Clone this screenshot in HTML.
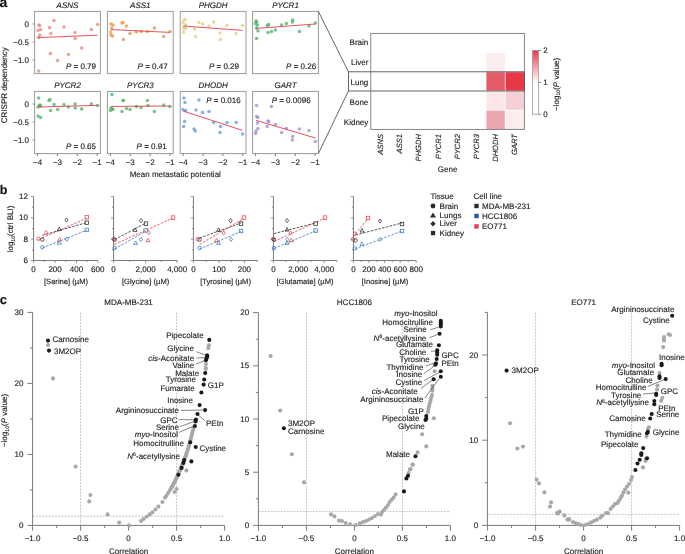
<!DOCTYPE html>
<html><head><meta charset="utf-8"><style>
html,body{margin:0;padding:0;background:#fff;}
svg{display:block;font-family:"Liberation Sans",sans-serif;text-rendering:geometricPrecision;will-change:transform;}
text{stroke:#231f20;stroke-width:0.15px;}
</style></head><body>
<svg width="685" height="554" viewBox="0 0 685 554">
<rect width="685" height="554" fill="#fff"/>
<text x="-0.40" y="7.20" font-size="14" text-anchor="start" font-weight="bold" fill="#111">a</text>
<text x="-0.20" y="194.30" font-size="12.5" text-anchor="start" font-weight="bold" fill="#111">b</text>
<text x="-0.20" y="304.20" font-size="13" text-anchor="start" font-weight="bold" fill="#111">c</text>
<text x="67.50" y="7.80" font-size="8" text-anchor="middle" font-style="italic" fill="#231f20">ASNS</text>
<circle cx="39.00" cy="25.00" r="1.75" fill="#ee8a80" fill-opacity="0.8"/>
<circle cx="39.60" cy="25.60" r="1.75" fill="#ee8a80" fill-opacity="0.8"/>
<circle cx="38.00" cy="30.40" r="1.75" fill="#ee8a80" fill-opacity="0.8"/>
<circle cx="40.60" cy="29.60" r="1.75" fill="#ee8a80" fill-opacity="0.8"/>
<circle cx="39.80" cy="35.00" r="1.75" fill="#ee8a80" fill-opacity="0.8"/>
<circle cx="38.60" cy="37.60" r="1.75" fill="#ee8a80" fill-opacity="0.8"/>
<circle cx="38.60" cy="71.00" r="1.75" fill="#ee8a80" fill-opacity="0.8"/>
<circle cx="49.60" cy="27.40" r="1.75" fill="#ee8a80" fill-opacity="0.8"/>
<circle cx="54.00" cy="20.60" r="1.75" fill="#ee8a80" fill-opacity="0.8"/>
<circle cx="50.80" cy="33.40" r="1.75" fill="#ee8a80" fill-opacity="0.8"/>
<circle cx="50.40" cy="53.60" r="1.75" fill="#ee8a80" fill-opacity="0.8"/>
<circle cx="57.60" cy="60.40" r="1.75" fill="#ee8a80" fill-opacity="0.8"/>
<circle cx="64.00" cy="27.00" r="1.75" fill="#ee8a80" fill-opacity="0.8"/>
<circle cx="68.40" cy="54.40" r="1.75" fill="#ee8a80" fill-opacity="0.8"/>
<circle cx="75.00" cy="32.40" r="1.75" fill="#ee8a80" fill-opacity="0.8"/>
<circle cx="75.20" cy="38.60" r="1.75" fill="#ee8a80" fill-opacity="0.8"/>
<circle cx="81.60" cy="48.00" r="1.75" fill="#ee8a80" fill-opacity="0.8"/>
<circle cx="91.40" cy="29.40" r="1.75" fill="#ee8a80" fill-opacity="0.8"/>
<circle cx="97.60" cy="24.40" r="1.75" fill="#ee8a80" fill-opacity="0.8"/>
<line x1="38.00" y1="37.60" x2="97.60" y2="35.20" stroke="#e0404e" stroke-width="0.9"/>
<rect x="34.60" y="11.40" width="65.8" height="62.2" fill="none" stroke="#9a9a9a" stroke-width="1"/>
<text x="96.00" y="68.50" font-size="8" text-anchor="end" fill="#231f20"><tspan font-style="italic">P</tspan> = 0.79</text>
<text x="140.30" y="7.80" font-size="8" text-anchor="middle" font-style="italic" fill="#231f20">ASS1</text>
<circle cx="111.00" cy="24.00" r="1.75" fill="#e89a48" fill-opacity="0.8"/>
<circle cx="113.00" cy="25.00" r="1.75" fill="#e89a48" fill-opacity="0.8"/>
<circle cx="111.60" cy="28.00" r="1.75" fill="#e89a48" fill-opacity="0.8"/>
<circle cx="110.60" cy="32.00" r="1.75" fill="#e89a48" fill-opacity="0.8"/>
<circle cx="111.00" cy="35.00" r="1.75" fill="#e89a48" fill-opacity="0.8"/>
<circle cx="112.60" cy="36.00" r="1.75" fill="#e89a48" fill-opacity="0.8"/>
<circle cx="122.00" cy="23.00" r="1.75" fill="#e89a48" fill-opacity="0.8"/>
<circle cx="123.00" cy="22.60" r="1.75" fill="#e89a48" fill-opacity="0.8"/>
<circle cx="126.40" cy="26.00" r="1.75" fill="#e89a48" fill-opacity="0.8"/>
<circle cx="123.40" cy="39.40" r="1.75" fill="#e89a48" fill-opacity="0.8"/>
<circle cx="130.00" cy="33.40" r="1.75" fill="#e89a48" fill-opacity="0.8"/>
<circle cx="136.40" cy="32.00" r="1.75" fill="#e89a48" fill-opacity="0.8"/>
<circle cx="141.00" cy="31.60" r="1.75" fill="#e89a48" fill-opacity="0.8"/>
<circle cx="147.40" cy="31.40" r="1.75" fill="#e89a48" fill-opacity="0.8"/>
<circle cx="154.40" cy="28.00" r="1.75" fill="#e89a48" fill-opacity="0.8"/>
<circle cx="163.60" cy="36.40" r="1.75" fill="#e89a48" fill-opacity="0.8"/>
<circle cx="170.00" cy="31.40" r="1.75" fill="#e89a48" fill-opacity="0.8"/>
<line x1="111.00" y1="29.60" x2="170.00" y2="32.40" stroke="#e0404e" stroke-width="0.9"/>
<rect x="107.40" y="11.40" width="65.8" height="62.2" fill="none" stroke="#9a9a9a" stroke-width="1"/>
<text x="167.60" y="68.50" font-size="8" text-anchor="end" fill="#231f20"><tspan font-style="italic">P</tspan> = 0.47</text>
<text x="213.10" y="7.80" font-size="8" text-anchor="middle" font-style="italic" fill="#231f20">PHGDH</text>
<circle cx="184.00" cy="20.00" r="1.75" fill="#e2d080" fill-opacity="0.8"/>
<circle cx="185.00" cy="19.60" r="1.75" fill="#e2d080" fill-opacity="0.8"/>
<circle cx="183.00" cy="23.00" r="1.75" fill="#e2d080" fill-opacity="0.8"/>
<circle cx="185.60" cy="25.00" r="1.75" fill="#e2d080" fill-opacity="0.8"/>
<circle cx="183.60" cy="28.00" r="1.75" fill="#e2d080" fill-opacity="0.8"/>
<circle cx="185.60" cy="28.60" r="1.75" fill="#e2d080" fill-opacity="0.8"/>
<circle cx="183.60" cy="32.00" r="1.75" fill="#e2d080" fill-opacity="0.8"/>
<circle cx="199.00" cy="22.40" r="1.75" fill="#e2d080" fill-opacity="0.8"/>
<circle cx="202.60" cy="24.00" r="1.75" fill="#e2d080" fill-opacity="0.8"/>
<circle cx="209.00" cy="26.00" r="1.75" fill="#e2d080" fill-opacity="0.8"/>
<circle cx="213.60" cy="22.00" r="1.75" fill="#e2d080" fill-opacity="0.8"/>
<circle cx="194.60" cy="29.00" r="1.75" fill="#e2d080" fill-opacity="0.8"/>
<circle cx="195.40" cy="36.60" r="1.75" fill="#e2d080" fill-opacity="0.8"/>
<circle cx="220.00" cy="33.00" r="1.75" fill="#e2d080" fill-opacity="0.8"/>
<circle cx="220.40" cy="39.40" r="1.75" fill="#e2d080" fill-opacity="0.8"/>
<circle cx="227.00" cy="25.40" r="1.75" fill="#e2d080" fill-opacity="0.8"/>
<circle cx="236.20" cy="33.60" r="1.75" fill="#e2d080" fill-opacity="0.8"/>
<circle cx="242.60" cy="25.60" r="1.75" fill="#e2d080" fill-opacity="0.8"/>
<line x1="183.00" y1="26.00" x2="242.60" y2="30.40" stroke="#e0404e" stroke-width="0.9"/>
<rect x="180.20" y="11.40" width="65.8" height="62.2" fill="none" stroke="#9a9a9a" stroke-width="1"/>
<text x="239.00" y="68.50" font-size="8" text-anchor="end" fill="#231f20"><tspan font-style="italic">P</tspan> = 0.29</text>
<text x="285.50" y="7.80" font-size="8" text-anchor="middle" font-style="italic" fill="#231f20">PYCR1</text>
<circle cx="256.00" cy="21.00" r="1.75" fill="#52b66a" fill-opacity="0.8"/>
<circle cx="256.60" cy="22.00" r="1.75" fill="#52b66a" fill-opacity="0.8"/>
<circle cx="255.60" cy="23.60" r="1.75" fill="#52b66a" fill-opacity="0.8"/>
<circle cx="257.40" cy="25.00" r="1.75" fill="#52b66a" fill-opacity="0.8"/>
<circle cx="256.60" cy="28.00" r="1.75" fill="#52b66a" fill-opacity="0.8"/>
<circle cx="258.00" cy="31.00" r="1.75" fill="#52b66a" fill-opacity="0.8"/>
<circle cx="256.60" cy="38.60" r="1.75" fill="#52b66a" fill-opacity="0.8"/>
<circle cx="267.40" cy="25.40" r="1.75" fill="#52b66a" fill-opacity="0.8"/>
<circle cx="268.60" cy="24.40" r="1.75" fill="#52b66a" fill-opacity="0.8"/>
<circle cx="268.00" cy="32.40" r="1.75" fill="#52b66a" fill-opacity="0.8"/>
<circle cx="271.60" cy="31.40" r="1.75" fill="#52b66a" fill-opacity="0.8"/>
<circle cx="275.40" cy="30.00" r="1.75" fill="#52b66a" fill-opacity="0.8"/>
<circle cx="281.60" cy="25.00" r="1.75" fill="#52b66a" fill-opacity="0.8"/>
<circle cx="286.40" cy="23.60" r="1.75" fill="#52b66a" fill-opacity="0.8"/>
<circle cx="292.60" cy="20.00" r="1.75" fill="#52b66a" fill-opacity="0.8"/>
<circle cx="292.40" cy="22.00" r="1.75" fill="#52b66a" fill-opacity="0.8"/>
<circle cx="299.40" cy="31.40" r="1.75" fill="#52b66a" fill-opacity="0.8"/>
<circle cx="309.00" cy="26.00" r="1.75" fill="#52b66a" fill-opacity="0.8"/>
<circle cx="315.40" cy="23.00" r="1.75" fill="#52b66a" fill-opacity="0.8"/>
<line x1="256.00" y1="28.40" x2="315.40" y2="24.00" stroke="#e0404e" stroke-width="0.9"/>
<rect x="252.60" y="11.40" width="65.8" height="62.2" fill="none" stroke="#9a9a9a" stroke-width="1"/>
<text x="316.10" y="68.50" font-size="8" text-anchor="end" fill="#231f20"><tspan font-style="italic">P</tspan> = 0.26</text>
<line x1="32.40" y1="24.00" x2="34.60" y2="24.00" stroke="#7a7a7a" stroke-width="0.8"/>
<text x="29.00" y="26.60" font-size="8" text-anchor="end" fill="#231f20">0</text>
<line x1="32.40" y1="42.00" x2="34.60" y2="42.00" stroke="#7a7a7a" stroke-width="0.8"/>
<text x="29.00" y="44.60" font-size="8" text-anchor="end" fill="#231f20">−0.5</text>
<line x1="32.40" y1="60.00" x2="34.60" y2="60.00" stroke="#7a7a7a" stroke-width="0.8"/>
<text x="29.00" y="62.60" font-size="8" text-anchor="end" fill="#231f20">−1.0</text>
<text x="67.50" y="87.80" font-size="8" text-anchor="middle" font-style="italic" fill="#231f20">PYCR2</text>
<circle cx="38.60" cy="98.00" r="1.75" fill="#52b66a" fill-opacity="0.8"/>
<circle cx="38.00" cy="107.00" r="1.75" fill="#52b66a" fill-opacity="0.8"/>
<circle cx="39.40" cy="105.60" r="1.75" fill="#52b66a" fill-opacity="0.8"/>
<circle cx="40.00" cy="105.00" r="1.75" fill="#52b66a" fill-opacity="0.8"/>
<circle cx="40.60" cy="106.00" r="1.75" fill="#52b66a" fill-opacity="0.8"/>
<circle cx="38.00" cy="116.00" r="1.75" fill="#52b66a" fill-opacity="0.8"/>
<circle cx="40.60" cy="117.40" r="1.75" fill="#52b66a" fill-opacity="0.8"/>
<circle cx="49.00" cy="100.60" r="1.75" fill="#52b66a" fill-opacity="0.8"/>
<circle cx="50.00" cy="99.60" r="1.75" fill="#52b66a" fill-opacity="0.8"/>
<circle cx="54.00" cy="104.40" r="1.75" fill="#52b66a" fill-opacity="0.8"/>
<circle cx="50.60" cy="110.60" r="1.75" fill="#52b66a" fill-opacity="0.8"/>
<circle cx="57.60" cy="109.40" r="1.75" fill="#52b66a" fill-opacity="0.8"/>
<circle cx="64.00" cy="104.40" r="1.75" fill="#52b66a" fill-opacity="0.8"/>
<circle cx="68.40" cy="107.00" r="1.75" fill="#52b66a" fill-opacity="0.8"/>
<circle cx="75.20" cy="104.00" r="1.75" fill="#52b66a" fill-opacity="0.8"/>
<circle cx="75.20" cy="108.00" r="1.75" fill="#52b66a" fill-opacity="0.8"/>
<circle cx="81.60" cy="109.00" r="1.75" fill="#52b66a" fill-opacity="0.8"/>
<circle cx="91.40" cy="104.00" r="1.75" fill="#52b66a" fill-opacity="0.8"/>
<circle cx="97.60" cy="105.40" r="1.75" fill="#52b66a" fill-opacity="0.8"/>
<line x1="38.00" y1="107.00" x2="97.60" y2="105.40" stroke="#e0404e" stroke-width="0.9"/>
<rect x="34.60" y="91.40" width="65.8" height="62.2" fill="none" stroke="#9a9a9a" stroke-width="1"/>
<text x="96.00" y="148.50" font-size="8" text-anchor="end" fill="#231f20"><tspan font-style="italic">P</tspan> = 0.65</text>
<line x1="37.60" y1="153.60" x2="37.60" y2="156.00" stroke="#7a7a7a" stroke-width="1"/>
<text x="37.60" y="164.60" font-size="8" text-anchor="middle" fill="#231f20">−4</text>
<line x1="57.45" y1="153.60" x2="57.45" y2="156.00" stroke="#7a7a7a" stroke-width="1"/>
<text x="57.45" y="164.60" font-size="8" text-anchor="middle" fill="#231f20">−3</text>
<line x1="77.30" y1="153.60" x2="77.30" y2="156.00" stroke="#7a7a7a" stroke-width="1"/>
<text x="77.30" y="164.60" font-size="8" text-anchor="middle" fill="#231f20">−2</text>
<line x1="97.15" y1="153.60" x2="97.15" y2="156.00" stroke="#7a7a7a" stroke-width="1"/>
<text x="97.15" y="164.60" font-size="8" text-anchor="middle" fill="#231f20">−1</text>
<text x="140.30" y="87.80" font-size="8" text-anchor="middle" font-style="italic" fill="#231f20">PYCR3</text>
<circle cx="112.00" cy="94.40" r="1.75" fill="#52b66a" fill-opacity="0.8"/>
<circle cx="111.00" cy="108.00" r="1.75" fill="#52b66a" fill-opacity="0.8"/>
<circle cx="112.00" cy="109.00" r="1.75" fill="#52b66a" fill-opacity="0.8"/>
<circle cx="113.00" cy="109.60" r="1.75" fill="#52b66a" fill-opacity="0.8"/>
<circle cx="110.40" cy="110.40" r="1.75" fill="#52b66a" fill-opacity="0.8"/>
<circle cx="123.00" cy="100.60" r="1.75" fill="#52b66a" fill-opacity="0.8"/>
<circle cx="123.40" cy="100.60" r="1.75" fill="#52b66a" fill-opacity="0.8"/>
<circle cx="122.00" cy="111.40" r="1.75" fill="#52b66a" fill-opacity="0.8"/>
<circle cx="126.40" cy="108.40" r="1.75" fill="#52b66a" fill-opacity="0.8"/>
<circle cx="130.00" cy="109.40" r="1.75" fill="#52b66a" fill-opacity="0.8"/>
<circle cx="136.40" cy="106.40" r="1.75" fill="#52b66a" fill-opacity="0.8"/>
<circle cx="141.00" cy="107.40" r="1.75" fill="#52b66a" fill-opacity="0.8"/>
<circle cx="147.40" cy="100.40" r="1.75" fill="#52b66a" fill-opacity="0.8"/>
<circle cx="148.00" cy="105.40" r="1.75" fill="#52b66a" fill-opacity="0.8"/>
<circle cx="154.40" cy="111.40" r="1.75" fill="#52b66a" fill-opacity="0.8"/>
<circle cx="163.60" cy="105.00" r="1.75" fill="#52b66a" fill-opacity="0.8"/>
<circle cx="170.00" cy="106.40" r="1.75" fill="#52b66a" fill-opacity="0.8"/>
<line x1="111.00" y1="106.40" x2="170.00" y2="106.00" stroke="#e0404e" stroke-width="0.9"/>
<rect x="107.40" y="91.40" width="65.8" height="62.2" fill="none" stroke="#9a9a9a" stroke-width="1"/>
<text x="166.60" y="148.50" font-size="8" text-anchor="end" fill="#231f20"><tspan font-style="italic">P</tspan> = 0.91</text>
<line x1="110.40" y1="153.60" x2="110.40" y2="156.00" stroke="#7a7a7a" stroke-width="1"/>
<text x="110.40" y="164.60" font-size="8" text-anchor="middle" fill="#231f20">−4</text>
<line x1="130.25" y1="153.60" x2="130.25" y2="156.00" stroke="#7a7a7a" stroke-width="1"/>
<text x="130.25" y="164.60" font-size="8" text-anchor="middle" fill="#231f20">−3</text>
<line x1="150.10" y1="153.60" x2="150.10" y2="156.00" stroke="#7a7a7a" stroke-width="1"/>
<text x="150.10" y="164.60" font-size="8" text-anchor="middle" fill="#231f20">−2</text>
<line x1="169.95" y1="153.60" x2="169.95" y2="156.00" stroke="#7a7a7a" stroke-width="1"/>
<text x="169.95" y="164.60" font-size="8" text-anchor="middle" fill="#231f20">−1</text>
<text x="213.10" y="87.80" font-size="8" text-anchor="middle" font-style="italic" fill="#231f20">DHODH</text>
<circle cx="184.00" cy="98.00" r="1.75" fill="#6a9edc" fill-opacity="0.8"/>
<circle cx="185.00" cy="102.60" r="1.75" fill="#6a9edc" fill-opacity="0.8"/>
<circle cx="183.00" cy="109.60" r="1.75" fill="#6a9edc" fill-opacity="0.8"/>
<circle cx="185.60" cy="110.60" r="1.75" fill="#6a9edc" fill-opacity="0.8"/>
<circle cx="184.60" cy="121.60" r="1.75" fill="#6a9edc" fill-opacity="0.8"/>
<circle cx="183.60" cy="126.60" r="1.75" fill="#6a9edc" fill-opacity="0.8"/>
<circle cx="199.00" cy="100.00" r="1.75" fill="#6a9edc" fill-opacity="0.8"/>
<circle cx="196.00" cy="110.00" r="1.75" fill="#6a9edc" fill-opacity="0.8"/>
<circle cx="194.00" cy="129.00" r="1.75" fill="#6a9edc" fill-opacity="0.8"/>
<circle cx="195.40" cy="131.00" r="1.75" fill="#6a9edc" fill-opacity="0.8"/>
<circle cx="202.60" cy="112.60" r="1.75" fill="#6a9edc" fill-opacity="0.8"/>
<circle cx="209.00" cy="111.60" r="1.75" fill="#6a9edc" fill-opacity="0.8"/>
<circle cx="213.60" cy="122.60" r="1.75" fill="#6a9edc" fill-opacity="0.8"/>
<circle cx="220.40" cy="126.40" r="1.75" fill="#6a9edc" fill-opacity="0.8"/>
<circle cx="220.00" cy="132.40" r="1.75" fill="#6a9edc" fill-opacity="0.8"/>
<circle cx="227.00" cy="122.60" r="1.75" fill="#6a9edc" fill-opacity="0.8"/>
<circle cx="236.20" cy="122.60" r="1.75" fill="#6a9edc" fill-opacity="0.8"/>
<circle cx="242.60" cy="134.00" r="1.75" fill="#6a9edc" fill-opacity="0.8"/>
<line x1="183.00" y1="111.00" x2="242.60" y2="130.40" stroke="#e0404e" stroke-width="0.9"/>
<rect x="180.20" y="91.40" width="65.8" height="62.2" fill="none" stroke="#9a9a9a" stroke-width="1"/>
<text x="240.70" y="102.70" font-size="8" text-anchor="end" fill="#231f20"><tspan font-style="italic">P</tspan> = 0.016</text>
<line x1="183.20" y1="153.60" x2="183.20" y2="156.00" stroke="#7a7a7a" stroke-width="1"/>
<text x="183.20" y="164.60" font-size="8" text-anchor="middle" fill="#231f20">−4</text>
<line x1="203.05" y1="153.60" x2="203.05" y2="156.00" stroke="#7a7a7a" stroke-width="1"/>
<text x="203.05" y="164.60" font-size="8" text-anchor="middle" fill="#231f20">−3</text>
<line x1="222.90" y1="153.60" x2="222.90" y2="156.00" stroke="#7a7a7a" stroke-width="1"/>
<text x="222.90" y="164.60" font-size="8" text-anchor="middle" fill="#231f20">−2</text>
<line x1="242.75" y1="153.60" x2="242.75" y2="156.00" stroke="#7a7a7a" stroke-width="1"/>
<text x="242.75" y="164.60" font-size="8" text-anchor="middle" fill="#231f20">−1</text>
<text x="285.50" y="87.80" font-size="8" text-anchor="middle" font-style="italic" fill="#231f20">GART</text>
<circle cx="256.60" cy="105.40" r="1.75" fill="#a48ed0" fill-opacity="0.8"/>
<circle cx="271.40" cy="106.60" r="1.75" fill="#a48ed0" fill-opacity="0.8"/>
<circle cx="256.60" cy="116.60" r="1.75" fill="#a48ed0" fill-opacity="0.8"/>
<circle cx="257.80" cy="117.40" r="1.75" fill="#a48ed0" fill-opacity="0.8"/>
<circle cx="257.40" cy="123.00" r="1.75" fill="#a48ed0" fill-opacity="0.8"/>
<circle cx="258.00" cy="128.60" r="1.75" fill="#a48ed0" fill-opacity="0.8"/>
<circle cx="256.00" cy="131.00" r="1.75" fill="#a48ed0" fill-opacity="0.8"/>
<circle cx="255.60" cy="133.40" r="1.75" fill="#a48ed0" fill-opacity="0.8"/>
<circle cx="268.00" cy="121.00" r="1.75" fill="#a48ed0" fill-opacity="0.8"/>
<circle cx="268.60" cy="121.40" r="1.75" fill="#a48ed0" fill-opacity="0.8"/>
<circle cx="267.20" cy="126.40" r="1.75" fill="#a48ed0" fill-opacity="0.8"/>
<circle cx="275.40" cy="124.40" r="1.75" fill="#a48ed0" fill-opacity="0.8"/>
<circle cx="281.60" cy="132.60" r="1.75" fill="#a48ed0" fill-opacity="0.8"/>
<circle cx="286.40" cy="128.60" r="1.75" fill="#a48ed0" fill-opacity="0.8"/>
<circle cx="292.60" cy="136.40" r="1.75" fill="#a48ed0" fill-opacity="0.8"/>
<circle cx="292.40" cy="140.00" r="1.75" fill="#a48ed0" fill-opacity="0.8"/>
<circle cx="299.40" cy="129.00" r="1.75" fill="#a48ed0" fill-opacity="0.8"/>
<circle cx="309.00" cy="130.60" r="1.75" fill="#a48ed0" fill-opacity="0.8"/>
<circle cx="315.40" cy="141.40" r="1.75" fill="#a48ed0" fill-opacity="0.8"/>
<line x1="256.00" y1="120.40" x2="315.40" y2="138.00" stroke="#e0404e" stroke-width="0.9"/>
<rect x="252.60" y="91.40" width="65.8" height="62.2" fill="none" stroke="#9a9a9a" stroke-width="1"/>
<text x="310.60" y="102.70" font-size="8" text-anchor="end" fill="#231f20"><tspan font-style="italic">P</tspan> = 0.0096</text>
<line x1="255.60" y1="153.60" x2="255.60" y2="156.00" stroke="#7a7a7a" stroke-width="1"/>
<text x="255.60" y="164.60" font-size="8" text-anchor="middle" fill="#231f20">−4</text>
<line x1="275.45" y1="153.60" x2="275.45" y2="156.00" stroke="#7a7a7a" stroke-width="1"/>
<text x="275.45" y="164.60" font-size="8" text-anchor="middle" fill="#231f20">−3</text>
<line x1="295.30" y1="153.60" x2="295.30" y2="156.00" stroke="#7a7a7a" stroke-width="1"/>
<text x="295.30" y="164.60" font-size="8" text-anchor="middle" fill="#231f20">−2</text>
<line x1="315.15" y1="153.60" x2="315.15" y2="156.00" stroke="#7a7a7a" stroke-width="1"/>
<text x="315.15" y="164.60" font-size="8" text-anchor="middle" fill="#231f20">−1</text>
<line x1="32.40" y1="104.00" x2="34.60" y2="104.00" stroke="#7a7a7a" stroke-width="0.8"/>
<text x="29.00" y="106.60" font-size="8" text-anchor="end" fill="#231f20">0</text>
<line x1="32.40" y1="122.00" x2="34.60" y2="122.00" stroke="#7a7a7a" stroke-width="0.8"/>
<text x="29.00" y="124.60" font-size="8" text-anchor="end" fill="#231f20">−0.5</text>
<line x1="32.40" y1="140.00" x2="34.60" y2="140.00" stroke="#7a7a7a" stroke-width="0.8"/>
<text x="29.00" y="142.60" font-size="8" text-anchor="end" fill="#231f20">−1.0</text>
<text x="4.30" y="85.00" font-size="8" text-anchor="middle" fill="#231f20" transform="rotate(-90 4.3 85.2) translate(0 2.4)">CRISPR dependency</text>
<text x="175.30" y="176.60" font-size="8" text-anchor="middle" fill="#231f20">Mean metastatic potential</text>
<line x1="318.40" y1="11.40" x2="348.50" y2="71.90" stroke="#555" stroke-width="0.9"/>
<line x1="318.40" y1="153.60" x2="348.50" y2="90.70" stroke="#555" stroke-width="0.9"/>
<rect x="486.40" y="53.00" width="18.40" height="18.40" fill="#fbecee"/>
<rect x="486.40" y="72.20" width="18.40" height="18.40" fill="#e45a66"/>
<rect x="505.60" y="72.20" width="18.40" height="18.40" fill="#e83848"/>
<rect x="486.40" y="91.40" width="18.40" height="18.40" fill="#fbe7e9"/>
<rect x="505.60" y="91.40" width="18.40" height="18.40" fill="#f4d0d4"/>
<rect x="486.40" y="110.60" width="18.40" height="18.40" fill="#eca6ad"/>
<rect x="505.60" y="110.60" width="18.40" height="18.40" fill="#fbecee"/>
<rect x="370.80" y="33.40" width="153.60" height="96.00" fill="none" stroke="#7a7a7a" stroke-width="0.9"/>
<rect x="348.5" y="71.80" width="175.90" height="19.20" fill="none" stroke="#555" stroke-width="0.9"/>
<text x="368.30" y="44.60" font-size="8" text-anchor="end" fill="#231f20">Brain</text>
<text x="368.30" y="65.00" font-size="8" text-anchor="end" fill="#231f20">Liver</text>
<text x="368.30" y="84.90" font-size="8" text-anchor="end" fill="#231f20">Lung</text>
<text x="368.30" y="104.60" font-size="8" text-anchor="end" fill="#231f20">Bone</text>
<text x="368.30" y="124.50" font-size="8" text-anchor="end" fill="#231f20">Kidney</text>
<text x="0" y="0" font-size="7.6" font-style="italic" text-anchor="end" fill="#231f20" transform="translate(383.00 134.0) rotate(-90)">ASNS</text>
<text x="0" y="0" font-size="7.6" font-style="italic" text-anchor="end" fill="#231f20" transform="translate(402.20 134.0) rotate(-90)">ASS1</text>
<text x="0" y="0" font-size="7.6" font-style="italic" text-anchor="end" fill="#231f20" transform="translate(421.40 134.0) rotate(-90)">PHGDH</text>
<text x="0" y="0" font-size="7.6" font-style="italic" text-anchor="end" fill="#231f20" transform="translate(440.60 134.0) rotate(-90)">PYCR1</text>
<text x="0" y="0" font-size="7.6" font-style="italic" text-anchor="end" fill="#231f20" transform="translate(459.80 134.0) rotate(-90)">PYCR2</text>
<text x="0" y="0" font-size="7.6" font-style="italic" text-anchor="end" fill="#231f20" transform="translate(479.00 134.0) rotate(-90)">PYCR3</text>
<text x="0" y="0" font-size="7.6" font-style="italic" text-anchor="end" fill="#231f20" transform="translate(498.20 134.0) rotate(-90)">DHODH</text>
<text x="0" y="0" font-size="7.6" font-style="italic" text-anchor="end" fill="#231f20" transform="translate(517.40 134.0) rotate(-90)">GART</text>
<text x="447.60" y="171.80" font-size="8" text-anchor="middle" fill="#231f20">Gene</text>
<defs><linearGradient id="cb" x1="0" y1="0" x2="0" y2="1"><stop offset="0" stop-color="#e8384a"/><stop offset="0.5" stop-color="#ffffff"/><stop offset="1" stop-color="#ffffff"/></linearGradient></defs>
<rect x="532.5" y="50.6" width="6" height="63.6" fill="url(#cb)" stroke="#909090" stroke-width="0.7"/>
<line x1="538.50" y1="50.60" x2="541.00" y2="50.60" stroke="#666" stroke-width="0.8"/>
<text x="543.20" y="53.20" font-size="8" text-anchor="start" fill="#231f20">2</text>
<line x1="538.50" y1="82.40" x2="541.00" y2="82.40" stroke="#666" stroke-width="0.8"/>
<text x="543.20" y="85.00" font-size="8" text-anchor="start" fill="#231f20">1</text>
<line x1="538.50" y1="114.20" x2="541.00" y2="114.20" stroke="#666" stroke-width="0.8"/>
<text x="543.20" y="116.80" font-size="8" text-anchor="start" fill="#231f20">0</text>
<text x="0" y="0" font-size="8" text-anchor="middle" fill="#231f20" transform="translate(558.5 84.4) rotate(-90)">−log<tspan font-size="5.2" dy="1.6">10</tspan><tspan dy="-1.6">(</tspan><tspan font-style="italic">P</tspan> value)</text>
<line x1="33.60" y1="196.50" x2="33.60" y2="260.50" stroke="#7a7a7a" stroke-width="1"/>
<line x1="33.60" y1="260.50" x2="97.80" y2="260.50" stroke="#7a7a7a" stroke-width="1"/>
<line x1="31.00" y1="196.50" x2="33.60" y2="196.50" stroke="#7a7a7a" stroke-width="0.8"/>
<text x="28.00" y="199.10" font-size="8" text-anchor="end" fill="#231f20">12</text>
<line x1="32.00" y1="207.17" x2="33.60" y2="207.17" stroke="#7a7a7a" stroke-width="0.8"/>
<line x1="31.00" y1="217.84" x2="33.60" y2="217.84" stroke="#7a7a7a" stroke-width="0.8"/>
<text x="28.00" y="220.44" font-size="8" text-anchor="end" fill="#231f20">10</text>
<line x1="32.00" y1="228.51" x2="33.60" y2="228.51" stroke="#7a7a7a" stroke-width="0.8"/>
<line x1="31.00" y1="239.18" x2="33.60" y2="239.18" stroke="#7a7a7a" stroke-width="0.8"/>
<text x="28.00" y="241.78" font-size="8" text-anchor="end" fill="#231f20">8</text>
<line x1="32.00" y1="249.85" x2="33.60" y2="249.85" stroke="#7a7a7a" stroke-width="0.8"/>
<line x1="31.00" y1="260.52" x2="33.60" y2="260.52" stroke="#7a7a7a" stroke-width="0.8"/>
<text x="28.00" y="263.12" font-size="8" text-anchor="end" fill="#231f20">6</text>
<line x1="33.60" y1="260.50" x2="33.60" y2="263.10" stroke="#7a7a7a" stroke-width="0.8"/>
<text x="33.60" y="272.40" font-size="8" text-anchor="middle" fill="#231f20">0</text>
<line x1="44.40" y1="260.50" x2="44.40" y2="262.10" stroke="#7a7a7a" stroke-width="0.8"/>
<line x1="55.10" y1="260.50" x2="55.10" y2="263.10" stroke="#7a7a7a" stroke-width="0.8"/>
<text x="55.10" y="272.40" font-size="8" text-anchor="middle" fill="#231f20">200</text>
<line x1="65.80" y1="260.50" x2="65.80" y2="262.10" stroke="#7a7a7a" stroke-width="0.8"/>
<line x1="76.50" y1="260.50" x2="76.50" y2="263.10" stroke="#7a7a7a" stroke-width="0.8"/>
<text x="76.50" y="272.40" font-size="8" text-anchor="middle" fill="#231f20">400</text>
<line x1="87.10" y1="260.50" x2="87.10" y2="262.10" stroke="#7a7a7a" stroke-width="0.8"/>
<line x1="97.80" y1="260.50" x2="97.80" y2="263.10" stroke="#7a7a7a" stroke-width="0.8"/>
<text x="97.80" y="272.40" font-size="8" text-anchor="middle" fill="#231f20">600</text>
<text x="66.00" y="284.47" font-size="7.6" text-anchor="middle" fill="#231f20">[Serine] (µM)</text>
<line x1="113.60" y1="196.50" x2="113.60" y2="260.50" stroke="#7a7a7a" stroke-width="1"/>
<line x1="113.60" y1="260.50" x2="177.20" y2="260.50" stroke="#7a7a7a" stroke-width="1"/>
<line x1="111.00" y1="196.50" x2="113.60" y2="196.50" stroke="#7a7a7a" stroke-width="0.8"/>
<line x1="112.00" y1="207.17" x2="113.60" y2="207.17" stroke="#7a7a7a" stroke-width="0.8"/>
<line x1="111.00" y1="217.84" x2="113.60" y2="217.84" stroke="#7a7a7a" stroke-width="0.8"/>
<line x1="112.00" y1="228.51" x2="113.60" y2="228.51" stroke="#7a7a7a" stroke-width="0.8"/>
<line x1="111.00" y1="239.18" x2="113.60" y2="239.18" stroke="#7a7a7a" stroke-width="0.8"/>
<line x1="112.00" y1="249.85" x2="113.60" y2="249.85" stroke="#7a7a7a" stroke-width="0.8"/>
<line x1="111.00" y1="260.52" x2="113.60" y2="260.52" stroke="#7a7a7a" stroke-width="0.8"/>
<line x1="113.60" y1="260.50" x2="113.60" y2="263.10" stroke="#7a7a7a" stroke-width="0.8"/>
<text x="113.60" y="272.40" font-size="8" text-anchor="middle" fill="#231f20">0</text>
<line x1="129.70" y1="260.50" x2="129.70" y2="262.10" stroke="#7a7a7a" stroke-width="0.8"/>
<line x1="145.60" y1="260.50" x2="145.60" y2="263.10" stroke="#7a7a7a" stroke-width="0.8"/>
<text x="145.60" y="272.40" font-size="8" text-anchor="middle" fill="#231f20">2,000</text>
<line x1="161.30" y1="260.50" x2="161.30" y2="262.10" stroke="#7a7a7a" stroke-width="0.8"/>
<line x1="177.20" y1="260.50" x2="177.20" y2="263.10" stroke="#7a7a7a" stroke-width="0.8"/>
<text x="177.20" y="272.40" font-size="8" text-anchor="middle" fill="#231f20">4,000</text>
<text x="145.60" y="284.47" font-size="7.6" text-anchor="middle" fill="#231f20">[Glycine] (µM)</text>
<line x1="193.40" y1="196.50" x2="193.40" y2="260.50" stroke="#7a7a7a" stroke-width="1"/>
<line x1="193.40" y1="260.50" x2="257.40" y2="260.50" stroke="#7a7a7a" stroke-width="1"/>
<line x1="190.80" y1="196.50" x2="193.40" y2="196.50" stroke="#7a7a7a" stroke-width="0.8"/>
<line x1="191.80" y1="207.17" x2="193.40" y2="207.17" stroke="#7a7a7a" stroke-width="0.8"/>
<line x1="190.80" y1="217.84" x2="193.40" y2="217.84" stroke="#7a7a7a" stroke-width="0.8"/>
<line x1="191.80" y1="228.51" x2="193.40" y2="228.51" stroke="#7a7a7a" stroke-width="0.8"/>
<line x1="190.80" y1="239.18" x2="193.40" y2="239.18" stroke="#7a7a7a" stroke-width="0.8"/>
<line x1="191.80" y1="249.85" x2="193.40" y2="249.85" stroke="#7a7a7a" stroke-width="0.8"/>
<line x1="190.80" y1="260.52" x2="193.40" y2="260.52" stroke="#7a7a7a" stroke-width="0.8"/>
<line x1="193.40" y1="260.50" x2="193.40" y2="263.10" stroke="#7a7a7a" stroke-width="0.8"/>
<text x="193.40" y="272.40" font-size="8" text-anchor="middle" fill="#231f20">0</text>
<line x1="206.20" y1="260.50" x2="206.20" y2="262.10" stroke="#7a7a7a" stroke-width="0.8"/>
<line x1="219.00" y1="260.50" x2="219.00" y2="263.10" stroke="#7a7a7a" stroke-width="0.8"/>
<text x="219.00" y="272.40" font-size="8" text-anchor="middle" fill="#231f20">100</text>
<line x1="231.70" y1="260.50" x2="231.70" y2="262.10" stroke="#7a7a7a" stroke-width="0.8"/>
<line x1="244.40" y1="260.50" x2="244.40" y2="263.10" stroke="#7a7a7a" stroke-width="0.8"/>
<text x="244.40" y="272.40" font-size="8" text-anchor="middle" fill="#231f20">200</text>
<line x1="257.40" y1="260.50" x2="257.40" y2="262.10" stroke="#7a7a7a" stroke-width="0.8"/>
<text x="225.60" y="284.47" font-size="7.6" text-anchor="middle" fill="#231f20">[Tyrosine] (µM)</text>
<line x1="273.40" y1="196.50" x2="273.40" y2="260.50" stroke="#7a7a7a" stroke-width="1"/>
<line x1="273.40" y1="260.50" x2="336.80" y2="260.50" stroke="#7a7a7a" stroke-width="1"/>
<line x1="270.80" y1="196.50" x2="273.40" y2="196.50" stroke="#7a7a7a" stroke-width="0.8"/>
<line x1="271.80" y1="207.17" x2="273.40" y2="207.17" stroke="#7a7a7a" stroke-width="0.8"/>
<line x1="270.80" y1="217.84" x2="273.40" y2="217.84" stroke="#7a7a7a" stroke-width="0.8"/>
<line x1="271.80" y1="228.51" x2="273.40" y2="228.51" stroke="#7a7a7a" stroke-width="0.8"/>
<line x1="270.80" y1="239.18" x2="273.40" y2="239.18" stroke="#7a7a7a" stroke-width="0.8"/>
<line x1="271.80" y1="249.85" x2="273.40" y2="249.85" stroke="#7a7a7a" stroke-width="0.8"/>
<line x1="270.80" y1="260.52" x2="273.40" y2="260.52" stroke="#7a7a7a" stroke-width="0.8"/>
<line x1="273.40" y1="260.50" x2="273.40" y2="263.10" stroke="#7a7a7a" stroke-width="0.8"/>
<text x="273.40" y="272.40" font-size="8" text-anchor="middle" fill="#231f20">0</text>
<line x1="285.80" y1="260.50" x2="285.80" y2="262.10" stroke="#7a7a7a" stroke-width="0.8"/>
<line x1="298.20" y1="260.50" x2="298.20" y2="263.10" stroke="#7a7a7a" stroke-width="0.8"/>
<text x="298.20" y="272.40" font-size="8" text-anchor="middle" fill="#231f20">2,000</text>
<line x1="311.20" y1="260.50" x2="311.20" y2="262.10" stroke="#7a7a7a" stroke-width="0.8"/>
<line x1="324.20" y1="260.50" x2="324.20" y2="263.10" stroke="#7a7a7a" stroke-width="0.8"/>
<text x="324.20" y="272.40" font-size="8" text-anchor="middle" fill="#231f20">4,000</text>
<line x1="336.80" y1="260.50" x2="336.80" y2="262.10" stroke="#7a7a7a" stroke-width="0.8"/>
<text x="305.00" y="284.47" font-size="7.6" text-anchor="middle" fill="#231f20">[Glutamate] (µM)</text>
<line x1="353.40" y1="196.50" x2="353.40" y2="260.50" stroke="#7a7a7a" stroke-width="1"/>
<line x1="353.40" y1="260.50" x2="416.20" y2="260.50" stroke="#7a7a7a" stroke-width="1"/>
<line x1="350.80" y1="196.50" x2="353.40" y2="196.50" stroke="#7a7a7a" stroke-width="0.8"/>
<line x1="351.80" y1="207.17" x2="353.40" y2="207.17" stroke="#7a7a7a" stroke-width="0.8"/>
<line x1="350.80" y1="217.84" x2="353.40" y2="217.84" stroke="#7a7a7a" stroke-width="0.8"/>
<line x1="351.80" y1="228.51" x2="353.40" y2="228.51" stroke="#7a7a7a" stroke-width="0.8"/>
<line x1="350.80" y1="239.18" x2="353.40" y2="239.18" stroke="#7a7a7a" stroke-width="0.8"/>
<line x1="351.80" y1="249.85" x2="353.40" y2="249.85" stroke="#7a7a7a" stroke-width="0.8"/>
<line x1="350.80" y1="260.52" x2="353.40" y2="260.52" stroke="#7a7a7a" stroke-width="0.8"/>
<line x1="353.40" y1="260.50" x2="353.40" y2="263.10" stroke="#7a7a7a" stroke-width="0.8"/>
<text x="353.40" y="272.40" font-size="8" text-anchor="middle" fill="#231f20">0</text>
<line x1="361.20" y1="260.50" x2="361.20" y2="262.10" stroke="#7a7a7a" stroke-width="0.8"/>
<line x1="369.00" y1="260.50" x2="369.00" y2="263.10" stroke="#7a7a7a" stroke-width="0.8"/>
<text x="369.00" y="272.40" font-size="8" text-anchor="middle" fill="#231f20">200</text>
<line x1="376.80" y1="260.50" x2="376.80" y2="262.10" stroke="#7a7a7a" stroke-width="0.8"/>
<line x1="384.60" y1="260.50" x2="384.60" y2="263.10" stroke="#7a7a7a" stroke-width="0.8"/>
<text x="384.60" y="272.40" font-size="8" text-anchor="middle" fill="#231f20">400</text>
<line x1="392.40" y1="260.50" x2="392.40" y2="262.10" stroke="#7a7a7a" stroke-width="0.8"/>
<line x1="400.20" y1="260.50" x2="400.20" y2="263.10" stroke="#7a7a7a" stroke-width="0.8"/>
<text x="400.20" y="272.40" font-size="8" text-anchor="middle" fill="#231f20">600</text>
<line x1="408.20" y1="260.50" x2="408.20" y2="262.10" stroke="#7a7a7a" stroke-width="0.8"/>
<line x1="416.20" y1="260.50" x2="416.20" y2="263.10" stroke="#7a7a7a" stroke-width="0.8"/>
<text x="416.20" y="272.40" font-size="8" text-anchor="middle" fill="#231f20">800</text>
<text x="385.00" y="284.47" font-size="7.6" text-anchor="middle" fill="#231f20">[Inosine] (µM)</text>
<line x1="42.30" y1="235.30" x2="86.80" y2="222.60" stroke="#2a2a2a" stroke-width="0.8" stroke-dasharray="2.6 1.3"/>
<line x1="38.40" y1="239.60" x2="86.80" y2="218.20" stroke="#e8404e" stroke-width="0.8" stroke-dasharray="2.6 1.3"/>
<line x1="42.30" y1="248.00" x2="86.80" y2="230.20" stroke="#3a78c4" stroke-width="0.8" stroke-dasharray="2.6 1.3"/>
<circle cx="38.40" cy="238.80" r="1.75" fill="none" stroke="#e8404e" stroke-width="0.75"/>
<circle cx="42.30" cy="239.50" r="1.75" fill="none" stroke="#2a2a2a" stroke-width="0.75"/>
<polygon points="46.10,230.40 47.70,232.50 46.10,234.60 44.50,232.50" fill="none" stroke="#e8404e" stroke-width="0.75"/>
<polygon points="59.20,227.10 61.20,230.60 57.20,230.60" fill="none" stroke="#2a2a2a" stroke-width="0.75"/>
<polygon points="59.60,237.50 61.60,241.00 57.60,241.00" fill="none" stroke="#e8404e" stroke-width="0.75"/>
<polygon points="59.20,240.70 61.20,244.20 57.20,244.20" fill="none" stroke="#3a78c4" stroke-width="0.75"/>
<polygon points="66.50,217.90 68.10,220.00 66.50,222.10 64.90,220.00" fill="none" stroke="#2a2a2a" stroke-width="0.75"/>
<polygon points="66.80,237.10 68.40,239.20 66.80,241.30 65.20,239.20" fill="none" stroke="#3a78c4" stroke-width="0.75"/>
<rect x="85.05" y="215.45" width="3.5" height="3.5" fill="none" stroke="#e8404e" stroke-width="0.75"/>
<rect x="85.05" y="220.95" width="3.5" height="3.5" fill="none" stroke="#2a2a2a" stroke-width="0.75"/>
<rect x="85.05" y="228.15" width="3.5" height="3.5" fill="none" stroke="#3a78c4" stroke-width="0.75"/>
<circle cx="42.30" cy="247.30" r="1.75" fill="none" stroke="#3a78c4" stroke-width="0.75"/>
<line x1="114.60" y1="239.60" x2="146.00" y2="223.00" stroke="#2a2a2a" stroke-width="0.8" stroke-dasharray="2.6 1.3"/>
<line x1="114.60" y1="244.40" x2="173.00" y2="218.00" stroke="#e8404e" stroke-width="0.8" stroke-dasharray="2.6 1.3"/>
<line x1="114.60" y1="249.00" x2="146.00" y2="231.00" stroke="#3a78c4" stroke-width="0.8" stroke-dasharray="2.6 1.3"/>
<circle cx="113.60" cy="239.00" r="1.75" fill="none" stroke="#e8404e" stroke-width="0.75"/>
<circle cx="114.60" cy="239.60" r="1.75" fill="none" stroke="#2a2a2a" stroke-width="0.75"/>
<circle cx="114.60" cy="248.00" r="1.75" fill="none" stroke="#3a78c4" stroke-width="0.75"/>
<polygon points="135.00,227.90 137.00,231.40 133.00,231.40" fill="none" stroke="#2a2a2a" stroke-width="0.75"/>
<polygon points="135.60,240.90 137.60,244.40 133.60,244.40" fill="none" stroke="#3a78c4" stroke-width="0.75"/>
<polygon points="141.00,218.50 142.60,220.60 141.00,222.70 139.40,220.60" fill="none" stroke="#2a2a2a" stroke-width="0.75"/>
<polygon points="141.00,237.30 142.60,239.40 141.00,241.50 139.40,239.40" fill="none" stroke="#3a78c4" stroke-width="0.75"/>
<rect x="144.25" y="221.85" width="3.5" height="3.5" fill="none" stroke="#2a2a2a" stroke-width="0.75"/>
<rect x="143.85" y="228.65" width="3.5" height="3.5" fill="none" stroke="#3a78c4" stroke-width="0.75"/>
<polygon points="148.60,230.50 150.20,232.60 148.60,234.70 147.00,232.60" fill="none" stroke="#e8404e" stroke-width="0.75"/>
<polygon points="148.00,238.30 150.00,241.80 146.00,241.80" fill="none" stroke="#e8404e" stroke-width="0.75"/>
<rect x="171.25" y="215.85" width="3.5" height="3.5" fill="none" stroke="#e8404e" stroke-width="0.75"/>
<line x1="199.60" y1="238.00" x2="241.00" y2="223.00" stroke="#2a2a2a" stroke-width="0.8" stroke-dasharray="2.6 1.3"/>
<line x1="199.60" y1="244.40" x2="244.00" y2="218.40" stroke="#e8404e" stroke-width="0.8" stroke-dasharray="2.6 1.3"/>
<line x1="199.60" y1="249.00" x2="241.00" y2="231.60" stroke="#3a78c4" stroke-width="0.8" stroke-dasharray="2.6 1.3"/>
<circle cx="197.60" cy="239.00" r="1.75" fill="none" stroke="#e8404e" stroke-width="0.75"/>
<circle cx="199.60" cy="239.60" r="1.75" fill="none" stroke="#2a2a2a" stroke-width="0.75"/>
<circle cx="199.60" cy="248.00" r="1.75" fill="none" stroke="#3a78c4" stroke-width="0.75"/>
<polygon points="218.60,227.90 220.60,231.40 216.60,231.40" fill="none" stroke="#2a2a2a" stroke-width="0.75"/>
<polygon points="216.60,238.30 218.60,241.80 214.60,241.80" fill="none" stroke="#e8404e" stroke-width="0.75"/>
<polygon points="218.60,240.90 220.60,244.40 216.60,244.40" fill="none" stroke="#3a78c4" stroke-width="0.75"/>
<polygon points="223.60,230.90 225.20,233.00 223.60,235.10 222.00,233.00" fill="none" stroke="#e8404e" stroke-width="0.75"/>
<polygon points="230.60,218.50 232.20,220.60 230.60,222.70 229.00,220.60" fill="none" stroke="#2a2a2a" stroke-width="0.75"/>
<polygon points="231.00,237.30 232.60,239.40 231.00,241.50 229.40,239.40" fill="none" stroke="#3a78c4" stroke-width="0.75"/>
<rect x="239.25" y="221.85" width="3.5" height="3.5" fill="none" stroke="#2a2a2a" stroke-width="0.75"/>
<rect x="239.25" y="229.25" width="3.5" height="3.5" fill="none" stroke="#3a78c4" stroke-width="0.75"/>
<rect x="242.25" y="215.85" width="3.5" height="3.5" fill="none" stroke="#e8404e" stroke-width="0.75"/>
<line x1="274.00" y1="233.60" x2="315.60" y2="223.00" stroke="#2a2a2a" stroke-width="0.8" stroke-dasharray="2.6 1.3"/>
<line x1="274.00" y1="241.60" x2="325.00" y2="218.00" stroke="#e8404e" stroke-width="0.8" stroke-dasharray="2.6 1.3"/>
<line x1="274.00" y1="248.40" x2="315.60" y2="231.00" stroke="#3a78c4" stroke-width="0.8" stroke-dasharray="2.6 1.3"/>
<circle cx="273.00" cy="239.00" r="1.75" fill="none" stroke="#e8404e" stroke-width="0.75"/>
<circle cx="274.00" cy="239.60" r="1.75" fill="none" stroke="#2a2a2a" stroke-width="0.75"/>
<circle cx="274.00" cy="248.00" r="1.75" fill="none" stroke="#3a78c4" stroke-width="0.75"/>
<polygon points="287.00,227.50 289.00,231.00 285.00,231.00" fill="none" stroke="#2a2a2a" stroke-width="0.75"/>
<polygon points="287.00,240.90 289.00,244.40 285.00,244.40" fill="none" stroke="#3a78c4" stroke-width="0.75"/>
<polygon points="287.00,218.50 288.60,220.60 287.00,222.70 285.40,220.60" fill="none" stroke="#2a2a2a" stroke-width="0.75"/>
<polygon points="290.60,230.90 292.20,233.00 290.60,235.10 289.00,233.00" fill="none" stroke="#e8404e" stroke-width="0.75"/>
<polygon points="287.40,237.30 289.00,239.40 287.40,241.50 285.80,239.40" fill="none" stroke="#3a78c4" stroke-width="0.75"/>
<polygon points="291.40,238.30 293.40,241.80 289.40,241.80" fill="none" stroke="#e8404e" stroke-width="0.75"/>
<rect x="313.85" y="221.85" width="3.5" height="3.5" fill="none" stroke="#2a2a2a" stroke-width="0.75"/>
<rect x="313.85" y="228.85" width="3.5" height="3.5" fill="none" stroke="#3a78c4" stroke-width="0.75"/>
<rect x="323.25" y="215.85" width="3.5" height="3.5" fill="none" stroke="#e8404e" stroke-width="0.75"/>
<line x1="353.00" y1="237.00" x2="368.00" y2="218.40" stroke="#e8404e" stroke-width="0.8" stroke-dasharray="2.6 1.3"/>
<line x1="355.60" y1="235.00" x2="402.00" y2="223.00" stroke="#2a2a2a" stroke-width="0.8" stroke-dasharray="2.6 1.3"/>
<line x1="355.00" y1="249.00" x2="402.00" y2="231.00" stroke="#3a78c4" stroke-width="0.8" stroke-dasharray="2.6 1.3"/>
<circle cx="353.00" cy="239.40" r="1.75" fill="none" stroke="#e8404e" stroke-width="0.75"/>
<polygon points="355.00,231.50 356.60,233.60 355.00,235.70 353.40,233.60" fill="none" stroke="#e8404e" stroke-width="0.75"/>
<circle cx="355.60" cy="240.40" r="1.75" fill="none" stroke="#2a2a2a" stroke-width="0.75"/>
<polygon points="362.00,228.50 364.00,232.00 360.00,232.00" fill="none" stroke="#2a2a2a" stroke-width="0.75"/>
<rect x="366.25" y="216.25" width="3.5" height="3.5" fill="none" stroke="#e8404e" stroke-width="0.75"/>
<polygon points="380.00,218.90 381.60,221.00 380.00,223.10 378.40,221.00" fill="none" stroke="#2a2a2a" stroke-width="0.75"/>
<rect x="400.25" y="222.25" width="3.5" height="3.5" fill="none" stroke="#2a2a2a" stroke-width="0.75"/>
<circle cx="355.00" cy="248.40" r="1.75" fill="none" stroke="#3a78c4" stroke-width="0.75"/>
<polygon points="362.00,241.90 364.00,245.40 360.00,245.40" fill="none" stroke="#3a78c4" stroke-width="0.75"/>
<polygon points="380.00,237.50 381.60,239.60 380.00,241.70 378.40,239.60" fill="none" stroke="#3a78c4" stroke-width="0.75"/>
<rect x="400.25" y="229.25" width="3.5" height="3.5" fill="none" stroke="#3a78c4" stroke-width="0.75"/>
<text x="0" y="0" font-size="8" text-anchor="middle" fill="#231f20" transform="translate(12.9 229) rotate(-90)">log<tspan font-size="5.2" dy="1.6">10</tspan><tspan dy="-1.6">(ctrl BLI)</tspan></text>
<text x="430.40" y="199.00" font-size="8" text-anchor="start" fill="#231f20">Tissue</text>
<circle cx="433" cy="206" r="2.4" fill="#2a2a2a"/>
<polygon points="433,212.6 436.0,217.6 430.0,217.6" fill="#2a2a2a"/>
<polygon points="433,221.0 435.6,223.7 433,226.4 430.4,223.7" fill="#2a2a2a"/>
<rect x="430.9" y="230.9" width="4.3" height="4.3" fill="#2a2a2a"/>
<text x="439.60" y="208.60" font-size="8" text-anchor="start" fill="#231f20">Brain</text>
<text x="439.60" y="218.00" font-size="8" text-anchor="start" fill="#231f20">Lungs</text>
<text x="439.60" y="226.40" font-size="8" text-anchor="start" fill="#231f20">Liver</text>
<text x="439.60" y="235.60" font-size="8" text-anchor="start" fill="#231f20">Kidney</text>
<text x="473.60" y="199.00" font-size="8" text-anchor="start" fill="#231f20">Cell line</text>
<rect x="474.3" y="203.80" width="4.4" height="4.4" fill="#2a2a2a"/>
<text x="482.00" y="208.60" font-size="8" text-anchor="start" fill="#231f20">MDA-MB-231</text>
<rect x="474.3" y="213.80" width="4.4" height="4.4" fill="#1f5aa8"/>
<text x="482.00" y="218.60" font-size="8" text-anchor="start" fill="#231f20">HCC1806</text>
<rect x="474.3" y="224.20" width="4.4" height="4.4" fill="#e8404e"/>
<text x="482.00" y="229.00" font-size="8" text-anchor="start" fill="#231f20">EO771</text>
<line x1="80.60" y1="312.40" x2="80.60" y2="525.40" stroke="#9a9a9a" stroke-width="0.6" stroke-dasharray="2 1.2"/>
<line x1="176.60" y1="312.40" x2="176.60" y2="525.40" stroke="#9a9a9a" stroke-width="0.6" stroke-dasharray="2 1.2"/>
<line x1="32.60" y1="516.17" x2="224.60" y2="516.17" stroke="#9a9a9a" stroke-width="0.6" stroke-dasharray="2 1.2"/>
<line x1="32.60" y1="312.40" x2="32.60" y2="525.40" stroke="#7a7a7a" stroke-width="1"/>
<line x1="32.60" y1="525.40" x2="224.60" y2="525.40" stroke="#7a7a7a" stroke-width="1"/>
<line x1="27.40" y1="525.40" x2="32.60" y2="525.40" stroke="#7a7a7a" stroke-width="1"/>
<text x="23.40" y="528.00" font-size="8" text-anchor="end" fill="#231f20">0</text>
<line x1="27.40" y1="454.40" x2="32.60" y2="454.40" stroke="#7a7a7a" stroke-width="1"/>
<text x="23.40" y="457.00" font-size="8" text-anchor="end" fill="#231f20">10</text>
<line x1="27.40" y1="383.40" x2="32.60" y2="383.40" stroke="#7a7a7a" stroke-width="1"/>
<text x="23.40" y="386.00" font-size="8" text-anchor="end" fill="#231f20">20</text>
<line x1="27.40" y1="312.40" x2="32.60" y2="312.40" stroke="#7a7a7a" stroke-width="1"/>
<text x="23.40" y="315.00" font-size="8" text-anchor="end" fill="#231f20">30</text>
<line x1="30.00" y1="489.90" x2="32.60" y2="489.90" stroke="#7a7a7a" stroke-width="1"/>
<line x1="30.00" y1="418.90" x2="32.60" y2="418.90" stroke="#7a7a7a" stroke-width="1"/>
<line x1="30.00" y1="347.90" x2="32.60" y2="347.90" stroke="#7a7a7a" stroke-width="1"/>
<line x1="32.60" y1="525.40" x2="32.60" y2="530.60" stroke="#7a7a7a" stroke-width="1"/>
<text x="32.60" y="540.80" font-size="8" text-anchor="middle" fill="#231f20">−1.0</text>
<line x1="80.60" y1="525.40" x2="80.60" y2="530.60" stroke="#7a7a7a" stroke-width="1"/>
<text x="80.60" y="540.80" font-size="8" text-anchor="middle" fill="#231f20">−0.5</text>
<line x1="128.60" y1="525.40" x2="128.60" y2="530.60" stroke="#7a7a7a" stroke-width="1"/>
<text x="128.60" y="540.80" font-size="8" text-anchor="middle" fill="#231f20">0</text>
<line x1="176.60" y1="525.40" x2="176.60" y2="530.60" stroke="#7a7a7a" stroke-width="1"/>
<text x="176.60" y="540.80" font-size="8" text-anchor="middle" fill="#231f20">0.5</text>
<line x1="224.60" y1="525.40" x2="224.60" y2="530.60" stroke="#7a7a7a" stroke-width="1"/>
<text x="224.60" y="540.80" font-size="8" text-anchor="middle" fill="#231f20">1.0</text>
<line x1="56.60" y1="525.40" x2="56.60" y2="528.00" stroke="#7a7a7a" stroke-width="1"/>
<line x1="104.60" y1="525.40" x2="104.60" y2="528.00" stroke="#7a7a7a" stroke-width="1"/>
<line x1="152.60" y1="525.40" x2="152.60" y2="528.00" stroke="#7a7a7a" stroke-width="1"/>
<line x1="200.60" y1="525.40" x2="200.60" y2="528.00" stroke="#7a7a7a" stroke-width="1"/>
<text x="128.60" y="553.60" font-size="8" text-anchor="middle" fill="#231f20">Correlation</text>
<text x="128.60" y="305.00" font-size="8" text-anchor="middle" fill="#231f20">MDA-MB-231</text>
<circle cx="48.00" cy="345.00" r="2.05" fill="#a6a8ab"/>
<circle cx="53.00" cy="378.40" r="2.05" fill="#a6a8ab"/>
<circle cx="75.60" cy="466.60" r="2.05" fill="#a6a8ab"/>
<circle cx="90.40" cy="495.00" r="2.05" fill="#a6a8ab"/>
<circle cx="89.20" cy="501.40" r="2.05" fill="#a6a8ab"/>
<circle cx="107.60" cy="514.40" r="2.05" fill="#a6a8ab"/>
<circle cx="119.20" cy="522.60" r="2.05" fill="#a6a8ab"/>
<circle cx="129.00" cy="525.40" r="2.05" fill="#a6a8ab"/>
<circle cx="186.40" cy="470.60" r="2.05" fill="#a6a8ab"/>
<circle cx="174.60" cy="492.00" r="2.05" fill="#a6a8ab"/>
<circle cx="176.60" cy="489.00" r="2.05" fill="#a6a8ab"/>
<circle cx="141.00" cy="521.00" r="2.05" fill="#a6a8ab"/>
<circle cx="143.60" cy="519.00" r="2.05" fill="#a6a8ab"/>
<circle cx="146.60" cy="516.70" r="2.05" fill="#a6a8ab"/>
<circle cx="149.60" cy="514.40" r="2.05" fill="#a6a8ab"/>
<circle cx="152.40" cy="512.40" r="2.05" fill="#a6a8ab"/>
<circle cx="155.40" cy="509.50" r="2.05" fill="#a6a8ab"/>
<circle cx="158.40" cy="506.60" r="2.05" fill="#a6a8ab"/>
<circle cx="162.40" cy="502.00" r="2.05" fill="#a6a8ab"/>
<circle cx="165.00" cy="497.60" r="2.05" fill="#a6a8ab"/>
<circle cx="166.60" cy="495.60" r="2.05" fill="#a6a8ab"/>
<circle cx="168.30" cy="492.80" r="2.05" fill="#a6a8ab"/>
<circle cx="170.00" cy="490.00" r="2.05" fill="#a6a8ab"/>
<circle cx="171.60" cy="487.60" r="2.05" fill="#a6a8ab"/>
<circle cx="208.90" cy="345.20" r="2.05" fill="#a6a8ab"/>
<circle cx="208.20" cy="348.10" r="2.05" fill="#a6a8ab"/>
<circle cx="206.00" cy="364.00" r="2.05" fill="#a6a8ab"/>
<circle cx="205.70" cy="367.90" r="2.05" fill="#a6a8ab"/>
<circle cx="205.70" cy="369.00" r="2.05" fill="#a6a8ab"/>
<circle cx="193.50" cy="428.00" r="2.05" fill="#a6a8ab"/>
<circle cx="193.00" cy="430.00" r="2.05" fill="#a6a8ab"/>
<circle cx="192.50" cy="432.00" r="2.05" fill="#a6a8ab"/>
<circle cx="192.00" cy="434.00" r="2.05" fill="#a6a8ab"/>
<circle cx="191.50" cy="436.00" r="2.05" fill="#a6a8ab"/>
<circle cx="191.00" cy="438.00" r="2.05" fill="#a6a8ab"/>
<circle cx="190.50" cy="440.00" r="2.05" fill="#a6a8ab"/>
<circle cx="190.00" cy="442.00" r="2.05" fill="#a6a8ab"/>
<circle cx="189.50" cy="443.75" r="2.05" fill="#a6a8ab"/>
<circle cx="189.00" cy="445.50" r="2.05" fill="#a6a8ab"/>
<circle cx="188.50" cy="447.25" r="2.05" fill="#a6a8ab"/>
<circle cx="188.00" cy="449.00" r="2.05" fill="#a6a8ab"/>
<circle cx="187.40" cy="450.80" r="2.05" fill="#a6a8ab"/>
<circle cx="186.80" cy="452.60" r="2.05" fill="#a6a8ab"/>
<circle cx="186.20" cy="454.40" r="2.05" fill="#a6a8ab"/>
<circle cx="185.60" cy="456.20" r="2.05" fill="#a6a8ab"/>
<circle cx="185.00" cy="458.00" r="2.05" fill="#a6a8ab"/>
<circle cx="184.33" cy="459.67" r="2.05" fill="#a6a8ab"/>
<circle cx="183.67" cy="461.33" r="2.05" fill="#a6a8ab"/>
<circle cx="183.00" cy="463.00" r="2.05" fill="#a6a8ab"/>
<circle cx="182.33" cy="464.67" r="2.05" fill="#a6a8ab"/>
<circle cx="181.67" cy="466.33" r="2.05" fill="#a6a8ab"/>
<circle cx="181.00" cy="468.00" r="2.05" fill="#a6a8ab"/>
<circle cx="180.29" cy="469.57" r="2.05" fill="#a6a8ab"/>
<circle cx="179.57" cy="471.14" r="2.05" fill="#a6a8ab"/>
<circle cx="178.86" cy="472.71" r="2.05" fill="#a6a8ab"/>
<circle cx="178.14" cy="474.29" r="2.05" fill="#a6a8ab"/>
<circle cx="177.43" cy="475.86" r="2.05" fill="#a6a8ab"/>
<circle cx="176.71" cy="477.43" r="2.05" fill="#a6a8ab"/>
<circle cx="176.00" cy="479.00" r="2.05" fill="#a6a8ab"/>
<circle cx="175.12" cy="480.72" r="2.05" fill="#a6a8ab"/>
<circle cx="174.24" cy="482.44" r="2.05" fill="#a6a8ab"/>
<circle cx="173.36" cy="484.16" r="2.05" fill="#a6a8ab"/>
<circle cx="172.48" cy="485.88" r="2.05" fill="#a6a8ab"/>
<circle cx="171.60" cy="487.60" r="2.05" fill="#a6a8ab"/>
<circle cx="48.00" cy="340.60" r="2.05" fill="#1b1b1b"/>
<circle cx="49.00" cy="350.60" r="2.05" fill="#1b1b1b"/>
<circle cx="209.30" cy="339.90" r="2.05" fill="#1b1b1b"/>
<circle cx="207.10" cy="355.30" r="2.05" fill="#1b1b1b"/>
<circle cx="207.10" cy="356.80" r="2.05" fill="#1b1b1b"/>
<circle cx="206.50" cy="358.40" r="2.05" fill="#1b1b1b"/>
<circle cx="205.90" cy="360.30" r="2.05" fill="#1b1b1b"/>
<circle cx="205.20" cy="373.00" r="2.05" fill="#1b1b1b"/>
<circle cx="204.20" cy="379.50" r="2.05" fill="#1b1b1b"/>
<circle cx="203.60" cy="384.60" r="2.05" fill="#1b1b1b"/>
<circle cx="201.40" cy="392.50" r="2.05" fill="#1b1b1b"/>
<circle cx="199.60" cy="405.10" r="2.05" fill="#1b1b1b"/>
<circle cx="205.10" cy="410.10" r="2.05" fill="#1b1b1b"/>
<circle cx="197.50" cy="414.00" r="2.05" fill="#1b1b1b"/>
<circle cx="196.00" cy="419.50" r="2.05" fill="#1b1b1b"/>
<circle cx="195.50" cy="421.40" r="2.05" fill="#1b1b1b"/>
<circle cx="194.90" cy="426.00" r="2.05" fill="#1b1b1b"/>
<circle cx="190.20" cy="442.20" r="2.05" fill="#1b1b1b"/>
<circle cx="195.70" cy="447.00" r="2.05" fill="#1b1b1b"/>
<circle cx="184.20" cy="460.00" r="2.05" fill="#1b1b1b"/>
<circle cx="183.40" cy="462.90" r="2.05" fill="#1b1b1b"/>
<circle cx="191.40" cy="461.40" r="2.05" fill="#1b1b1b"/>
<circle cx="181.60" cy="467.90" r="2.05" fill="#1b1b1b"/>
<circle cx="178.40" cy="474.70" r="2.05" fill="#1b1b1b"/>
<text x="52.40" y="342.20" font-size="8" text-anchor="start" fill="#231f20">Carnosine</text>
<text x="54.00" y="353.60" font-size="8" text-anchor="start" fill="#231f20">3M2OP</text>
<text x="203.60" y="338.30" font-size="8" text-anchor="end" fill="#231f20">Pipecolate</text>
<text x="193.90" y="351.30" font-size="8" text-anchor="end" fill="#231f20">Glycine</text>
<text x="194.10" y="360.60" font-size="8" text-anchor="end" fill="#231f20"><tspan font-style="italic">cis</tspan>-Aconitate</text>
<text x="194.10" y="368.00" font-size="8" text-anchor="end" fill="#231f20">Valine</text>
<line x1="196.50" y1="351.80" x2="205.50" y2="355.30" stroke="#333" stroke-width="0.6"/>
<line x1="196.40" y1="358.00" x2="204.60" y2="357.60" stroke="#333" stroke-width="0.6"/>
<line x1="196.00" y1="364.00" x2="204.80" y2="360.60" stroke="#333" stroke-width="0.6"/>
<text x="199.20" y="375.60" font-size="8" text-anchor="end" fill="#231f20">Malate</text>
<text x="196.00" y="382.30" font-size="8" text-anchor="end" fill="#231f20">Tyrosine</text>
<text x="207.80" y="387.80" font-size="8" text-anchor="start" fill="#231f20">G1P</text>
<text x="194.70" y="391.40" font-size="8" text-anchor="end" fill="#231f20">Fumarate</text>
<text x="193.00" y="403.20" font-size="8" text-anchor="end" fill="#231f20">Inosine</text>
<text x="179.00" y="413.20" font-size="8" text-anchor="end" fill="#231f20">Argininosuccinate</text>
<line x1="181.00" y1="410.40" x2="203.00" y2="410.10" stroke="#333" stroke-width="0.6"/>
<text x="206.00" y="425.60" font-size="8" text-anchor="start" fill="#231f20">PEtn</text>
<line x1="199.00" y1="415.60" x2="205.00" y2="420.60" stroke="#333" stroke-width="0.6"/>
<text x="177.60" y="422.60" font-size="8" text-anchor="end" fill="#231f20">GPC</text>
<line x1="178.60" y1="419.60" x2="194.00" y2="419.80" stroke="#333" stroke-width="0.6"/>
<text x="179.00" y="430.00" font-size="8" text-anchor="end" fill="#231f20">Serine</text>
<line x1="180.00" y1="426.60" x2="193.50" y2="421.80" stroke="#333" stroke-width="0.6"/>
<text x="178.00" y="437.00" font-size="8" text-anchor="end" fill="#231f20"><tspan font-style="italic">myo</tspan>-Inositol</text>
<line x1="179.00" y1="432.40" x2="193.00" y2="426.40" stroke="#333" stroke-width="0.6"/>
<text x="184.00" y="445.60" font-size="8" text-anchor="end" fill="#231f20">Homocitrulline</text>
<text x="199.40" y="450.60" font-size="8" text-anchor="start" fill="#231f20">Cystine</text>
<text x="180.00" y="458.60" font-size="8" text-anchor="end" fill="#231f20"><tspan font-style="italic">N</tspan><tspan font-size="5.2" dy="-2.6">6</tspan><tspan dy="2.6">-acetyllysine</tspan></text>
<text x="0" y="0" font-size="8" text-anchor="middle" fill="#231f20" transform="translate(7.0 420.5) rotate(-90)">−log<tspan font-size="5.2" dy="1.6">10</tspan><tspan dy="-1.6">(</tspan><tspan font-style="italic">P</tspan> value)</text>
<line x1="306.40" y1="312.60" x2="306.40" y2="525.40" stroke="#9a9a9a" stroke-width="0.6" stroke-dasharray="2 1.2"/>
<line x1="402.40" y1="312.60" x2="402.40" y2="525.40" stroke="#9a9a9a" stroke-width="0.6" stroke-dasharray="2 1.2"/>
<line x1="258.40" y1="511.57" x2="450.40" y2="511.57" stroke="#9a9a9a" stroke-width="0.6" stroke-dasharray="2 1.2"/>
<line x1="258.40" y1="312.60" x2="258.40" y2="525.40" stroke="#7a7a7a" stroke-width="1"/>
<line x1="258.40" y1="525.40" x2="450.40" y2="525.40" stroke="#7a7a7a" stroke-width="1"/>
<line x1="253.20" y1="525.40" x2="258.40" y2="525.40" stroke="#7a7a7a" stroke-width="1"/>
<text x="249.20" y="528.00" font-size="8" text-anchor="end" fill="#231f20">0</text>
<line x1="253.20" y1="472.20" x2="258.40" y2="472.20" stroke="#7a7a7a" stroke-width="1"/>
<text x="249.20" y="474.80" font-size="8" text-anchor="end" fill="#231f20">5</text>
<line x1="253.20" y1="419.00" x2="258.40" y2="419.00" stroke="#7a7a7a" stroke-width="1"/>
<text x="249.20" y="421.60" font-size="8" text-anchor="end" fill="#231f20">10</text>
<line x1="253.20" y1="365.80" x2="258.40" y2="365.80" stroke="#7a7a7a" stroke-width="1"/>
<text x="249.20" y="368.40" font-size="8" text-anchor="end" fill="#231f20">15</text>
<line x1="253.20" y1="312.60" x2="258.40" y2="312.60" stroke="#7a7a7a" stroke-width="1"/>
<text x="249.20" y="315.20" font-size="8" text-anchor="end" fill="#231f20">20</text>
<line x1="255.80" y1="498.80" x2="258.40" y2="498.80" stroke="#7a7a7a" stroke-width="1"/>
<line x1="255.80" y1="445.60" x2="258.40" y2="445.60" stroke="#7a7a7a" stroke-width="1"/>
<line x1="255.80" y1="392.40" x2="258.40" y2="392.40" stroke="#7a7a7a" stroke-width="1"/>
<line x1="255.80" y1="339.20" x2="258.40" y2="339.20" stroke="#7a7a7a" stroke-width="1"/>
<line x1="258.40" y1="525.40" x2="258.40" y2="530.60" stroke="#7a7a7a" stroke-width="1"/>
<text x="258.40" y="540.80" font-size="8" text-anchor="middle" fill="#231f20">−1.0</text>
<line x1="306.40" y1="525.40" x2="306.40" y2="530.60" stroke="#7a7a7a" stroke-width="1"/>
<text x="306.40" y="540.80" font-size="8" text-anchor="middle" fill="#231f20">−0.5</text>
<line x1="354.40" y1="525.40" x2="354.40" y2="530.60" stroke="#7a7a7a" stroke-width="1"/>
<text x="354.40" y="540.80" font-size="8" text-anchor="middle" fill="#231f20">0</text>
<line x1="402.40" y1="525.40" x2="402.40" y2="530.60" stroke="#7a7a7a" stroke-width="1"/>
<text x="402.40" y="540.80" font-size="8" text-anchor="middle" fill="#231f20">0.5</text>
<line x1="450.40" y1="525.40" x2="450.40" y2="530.60" stroke="#7a7a7a" stroke-width="1"/>
<text x="450.40" y="540.80" font-size="8" text-anchor="middle" fill="#231f20">1.0</text>
<line x1="282.40" y1="525.40" x2="282.40" y2="528.00" stroke="#7a7a7a" stroke-width="1"/>
<line x1="330.40" y1="525.40" x2="330.40" y2="528.00" stroke="#7a7a7a" stroke-width="1"/>
<line x1="378.40" y1="525.40" x2="378.40" y2="528.00" stroke="#7a7a7a" stroke-width="1"/>
<line x1="426.40" y1="525.40" x2="426.40" y2="528.00" stroke="#7a7a7a" stroke-width="1"/>
<text x="354.40" y="553.60" font-size="8" text-anchor="middle" fill="#231f20">Correlation</text>
<text x="354.40" y="305.00" font-size="8" text-anchor="middle" fill="#231f20">HCC1806</text>
<circle cx="304.00" cy="482.40" r="2.05" fill="#a6a8ab"/>
<circle cx="291.90" cy="454.20" r="2.05" fill="#a6a8ab"/>
<circle cx="280.20" cy="410.60" r="2.05" fill="#a6a8ab"/>
<circle cx="270.60" cy="356.00" r="2.05" fill="#a6a8ab"/>
<circle cx="434.60" cy="371.30" r="2.05" fill="#a6a8ab"/>
<circle cx="433.90" cy="418.30" r="2.05" fill="#a6a8ab"/>
<circle cx="422.10" cy="434.20" r="2.05" fill="#a6a8ab"/>
<circle cx="426.30" cy="446.40" r="2.05" fill="#a6a8ab"/>
<circle cx="417.60" cy="452.40" r="2.05" fill="#a6a8ab"/>
<circle cx="412.70" cy="464.80" r="2.05" fill="#a6a8ab"/>
<circle cx="410.00" cy="469.40" r="2.05" fill="#a6a8ab"/>
<circle cx="395.60" cy="494.40" r="2.05" fill="#a6a8ab"/>
<circle cx="331.00" cy="514.40" r="2.05" fill="#a6a8ab"/>
<circle cx="334.40" cy="516.40" r="2.05" fill="#a6a8ab"/>
<circle cx="339.00" cy="520.60" r="2.05" fill="#a6a8ab"/>
<circle cx="342.00" cy="521.00" r="2.05" fill="#a6a8ab"/>
<circle cx="345.60" cy="523.00" r="2.05" fill="#a6a8ab"/>
<circle cx="350.00" cy="524.40" r="2.05" fill="#a6a8ab"/>
<circle cx="432.40" cy="385.80" r="2.05" fill="#a6a8ab"/>
<circle cx="432.40" cy="388.30" r="2.05" fill="#a6a8ab"/>
<circle cx="432.40" cy="390.80" r="2.05" fill="#a6a8ab"/>
<circle cx="432.00" cy="395.00" r="2.05" fill="#a6a8ab"/>
<circle cx="431.23" cy="397.83" r="2.05" fill="#a6a8ab"/>
<circle cx="430.47" cy="400.67" r="2.05" fill="#a6a8ab"/>
<circle cx="429.70" cy="403.50" r="2.05" fill="#a6a8ab"/>
<circle cx="429.05" cy="406.20" r="2.05" fill="#a6a8ab"/>
<circle cx="428.40" cy="408.90" r="2.05" fill="#a6a8ab"/>
<circle cx="427.90" cy="412.00" r="2.05" fill="#a6a8ab"/>
<circle cx="355.60" cy="525.00" r="2.05" fill="#a6a8ab"/>
<circle cx="360.00" cy="523.40" r="2.05" fill="#a6a8ab"/>
<circle cx="363.00" cy="522.00" r="2.05" fill="#a6a8ab"/>
<circle cx="366.00" cy="521.00" r="2.05" fill="#a6a8ab"/>
<circle cx="369.00" cy="519.60" r="2.05" fill="#a6a8ab"/>
<circle cx="372.00" cy="518.00" r="2.05" fill="#a6a8ab"/>
<circle cx="375.00" cy="516.00" r="2.05" fill="#a6a8ab"/>
<circle cx="378.00" cy="514.00" r="2.05" fill="#a6a8ab"/>
<circle cx="381.00" cy="514.60" r="2.05" fill="#a6a8ab"/>
<circle cx="382.00" cy="512.00" r="2.05" fill="#a6a8ab"/>
<circle cx="384.00" cy="510.00" r="2.05" fill="#a6a8ab"/>
<circle cx="386.00" cy="507.60" r="2.05" fill="#a6a8ab"/>
<circle cx="388.00" cy="505.00" r="2.05" fill="#a6a8ab"/>
<circle cx="389.60" cy="502.00" r="2.05" fill="#a6a8ab"/>
<circle cx="391.60" cy="499.80" r="2.05" fill="#a6a8ab"/>
<circle cx="393.60" cy="497.60" r="2.05" fill="#a6a8ab"/>
<circle cx="408.50" cy="473.00" r="2.05" fill="#a6a8ab"/>
<circle cx="410.60" cy="469.00" r="2.05" fill="#a6a8ab"/>
<circle cx="412.60" cy="464.60" r="2.05" fill="#a6a8ab"/>
<circle cx="440.80" cy="320.70" r="2.05" fill="#1b1b1b"/>
<circle cx="440.80" cy="322.60" r="2.05" fill="#1b1b1b"/>
<circle cx="440.80" cy="324.30" r="2.05" fill="#1b1b1b"/>
<circle cx="440.80" cy="326.50" r="2.05" fill="#1b1b1b"/>
<circle cx="439.60" cy="333.70" r="2.05" fill="#1b1b1b"/>
<circle cx="438.90" cy="345.30" r="2.05" fill="#1b1b1b"/>
<circle cx="437.20" cy="350.30" r="2.05" fill="#1b1b1b"/>
<circle cx="437.20" cy="352.50" r="2.05" fill="#1b1b1b"/>
<circle cx="437.20" cy="354.70" r="2.05" fill="#1b1b1b"/>
<circle cx="436.70" cy="359.00" r="2.05" fill="#1b1b1b"/>
<circle cx="436.00" cy="363.40" r="2.05" fill="#1b1b1b"/>
<circle cx="435.30" cy="364.80" r="2.05" fill="#1b1b1b"/>
<circle cx="440.80" cy="371.30" r="2.05" fill="#1b1b1b"/>
<circle cx="440.80" cy="376.80" r="2.05" fill="#1b1b1b"/>
<circle cx="433.60" cy="379.20" r="2.05" fill="#1b1b1b"/>
<circle cx="426.30" cy="416.10" r="2.05" fill="#1b1b1b"/>
<circle cx="426.30" cy="418.80" r="2.05" fill="#1b1b1b"/>
<circle cx="425.50" cy="420.00" r="2.05" fill="#1b1b1b"/>
<circle cx="415.50" cy="456.20" r="2.05" fill="#1b1b1b"/>
<circle cx="408.00" cy="475.70" r="2.05" fill="#1b1b1b"/>
<circle cx="406.40" cy="478.40" r="2.05" fill="#1b1b1b"/>
<circle cx="404.00" cy="491.40" r="2.05" fill="#1b1b1b"/>
<circle cx="283.90" cy="428.20" r="2.05" fill="#1b1b1b"/>
<text x="288.00" y="426.20" font-size="8" text-anchor="start" fill="#231f20">3M2OP</text>
<text x="288.00" y="433.70" font-size="8" text-anchor="start" fill="#231f20">Carnosine</text>
<text x="437.50" y="316.10" font-size="8" text-anchor="end" fill="#231f20"><tspan font-style="italic">myo</tspan>-Inositol</text>
<text x="433.00" y="324.60" font-size="8" text-anchor="end" fill="#231f20">Homocitrulline</text>
<text x="426.60" y="332.40" font-size="8" text-anchor="end" fill="#231f20">Serine</text>
<line x1="430.20" y1="329.80" x2="438.40" y2="327.20" stroke="#333" stroke-width="0.6"/>
<text x="426.30" y="340.50" font-size="8" text-anchor="end" fill="#231f20"><tspan font-style="italic">N</tspan><tspan font-size="5.2" dy="-2.6">6</tspan><tspan dy="2.6">-acetyllysine</tspan></text>
<line x1="429.50" y1="337.80" x2="437.60" y2="334.40" stroke="#333" stroke-width="0.6"/>
<text x="433.00" y="346.80" font-size="8" text-anchor="end" fill="#231f20">Glutamate</text>
<text x="426.30" y="354.60" font-size="8" text-anchor="end" fill="#231f20">Choline</text>
<line x1="431.00" y1="351.20" x2="435.60" y2="351.20" stroke="#333" stroke-width="0.6"/>
<text x="441.40" y="357.60" font-size="8" text-anchor="start" fill="#231f20">GPC</text>
<text x="429.70" y="362.20" font-size="8" text-anchor="end" fill="#231f20">Tyrosine</text>
<text x="423.40" y="370.30" font-size="8" text-anchor="end" fill="#231f20">Thymidine</text>
<line x1="425.90" y1="366.00" x2="434.00" y2="363.00" stroke="#333" stroke-width="0.6"/>
<text x="441.40" y="366.10" font-size="8" text-anchor="start" fill="#231f20">PEtn</text>
<text x="422.10" y="377.00" font-size="8" text-anchor="end" fill="#231f20">Inosine</text>
<line x1="423.70" y1="373.80" x2="435.40" y2="365.20" stroke="#333" stroke-width="0.6"/>
<text x="422.10" y="385.30" font-size="8" text-anchor="end" fill="#231f20">Cystine</text>
<line x1="423.70" y1="380.80" x2="439.20" y2="372.40" stroke="#333" stroke-width="0.6"/>
<text x="417.60" y="393.80" font-size="8" text-anchor="end" fill="#231f20"><tspan font-style="italic">cis</tspan>-Aconitate</text>
<line x1="420.80" y1="388.40" x2="432.00" y2="380.40" stroke="#333" stroke-width="0.6"/>
<text x="423.40" y="402.10" font-size="8" text-anchor="end" fill="#231f20">Argininosuccinate</text>
<line x1="424.80" y1="398.20" x2="439.20" y2="378.60" stroke="#333" stroke-width="0.6"/>
<text x="423.90" y="414.20" font-size="8" text-anchor="end" fill="#231f20">G1P</text>
<text x="419.40" y="420.90" font-size="8" text-anchor="end" fill="#231f20">Pipecolate</text>
<text x="424.80" y="428.60" font-size="8" text-anchor="end" fill="#231f20">Glycine</text>
<text x="410.00" y="457.00" font-size="8" text-anchor="end" fill="#231f20">Malate</text>
<line x1="535.60" y1="312.40" x2="535.60" y2="525.40" stroke="#9a9a9a" stroke-width="0.6" stroke-dasharray="2 1.2"/>
<line x1="631.60" y1="312.40" x2="631.60" y2="525.40" stroke="#9a9a9a" stroke-width="0.6" stroke-dasharray="2 1.2"/>
<line x1="487.40" y1="514.32" x2="679.60" y2="514.32" stroke="#9a9a9a" stroke-width="0.6" stroke-dasharray="2 1.2"/>
<line x1="487.40" y1="312.40" x2="487.40" y2="525.40" stroke="#7a7a7a" stroke-width="1"/>
<line x1="487.40" y1="525.40" x2="679.60" y2="525.40" stroke="#7a7a7a" stroke-width="1"/>
<line x1="482.20" y1="525.40" x2="487.40" y2="525.40" stroke="#7a7a7a" stroke-width="1"/>
<text x="478.20" y="528.00" font-size="8" text-anchor="end" fill="#231f20">0</text>
<line x1="482.20" y1="440.20" x2="487.40" y2="440.20" stroke="#7a7a7a" stroke-width="1"/>
<text x="478.20" y="442.80" font-size="8" text-anchor="end" fill="#231f20">10</text>
<line x1="482.20" y1="355.00" x2="487.40" y2="355.00" stroke="#7a7a7a" stroke-width="1"/>
<text x="478.20" y="357.60" font-size="8" text-anchor="end" fill="#231f20">20</text>
<line x1="484.80" y1="482.80" x2="487.40" y2="482.80" stroke="#7a7a7a" stroke-width="1"/>
<line x1="484.80" y1="397.60" x2="487.40" y2="397.60" stroke="#7a7a7a" stroke-width="1"/>
<line x1="484.80" y1="312.40" x2="487.40" y2="312.40" stroke="#7a7a7a" stroke-width="1"/>
<line x1="487.60" y1="525.40" x2="487.60" y2="530.60" stroke="#7a7a7a" stroke-width="1"/>
<text x="487.60" y="540.80" font-size="8" text-anchor="middle" fill="#231f20">−1.0</text>
<line x1="535.60" y1="525.40" x2="535.60" y2="530.60" stroke="#7a7a7a" stroke-width="1"/>
<text x="535.60" y="540.80" font-size="8" text-anchor="middle" fill="#231f20">−0.5</text>
<line x1="583.60" y1="525.40" x2="583.60" y2="530.60" stroke="#7a7a7a" stroke-width="1"/>
<text x="583.60" y="540.80" font-size="8" text-anchor="middle" fill="#231f20">0</text>
<line x1="631.60" y1="525.40" x2="631.60" y2="530.60" stroke="#7a7a7a" stroke-width="1"/>
<text x="631.60" y="540.80" font-size="8" text-anchor="middle" fill="#231f20">0.5</text>
<line x1="679.60" y1="525.40" x2="679.60" y2="530.60" stroke="#7a7a7a" stroke-width="1"/>
<text x="679.60" y="540.80" font-size="8" text-anchor="middle" fill="#231f20">1.0</text>
<line x1="511.60" y1="525.40" x2="511.60" y2="528.00" stroke="#7a7a7a" stroke-width="1"/>
<line x1="559.60" y1="525.40" x2="559.60" y2="528.00" stroke="#7a7a7a" stroke-width="1"/>
<line x1="607.60" y1="525.40" x2="607.60" y2="528.00" stroke="#7a7a7a" stroke-width="1"/>
<line x1="655.60" y1="525.40" x2="655.60" y2="528.00" stroke="#7a7a7a" stroke-width="1"/>
<text x="583.60" y="553.60" font-size="8" text-anchor="middle" fill="#231f20">Correlation</text>
<text x="583.60" y="305.00" font-size="8" text-anchor="middle" fill="#231f20">EO771</text>
<circle cx="670.00" cy="335.00" r="2.05" fill="#a6a8ab"/>
<circle cx="668.60" cy="334.30" r="2.05" fill="#a6a8ab"/>
<circle cx="664.00" cy="337.00" r="2.05" fill="#a6a8ab"/>
<circle cx="664.00" cy="339.00" r="2.05" fill="#a6a8ab"/>
<circle cx="664.00" cy="340.60" r="2.05" fill="#a6a8ab"/>
<circle cx="663.20" cy="347.10" r="2.05" fill="#a6a8ab"/>
<circle cx="659.50" cy="373.10" r="2.05" fill="#a6a8ab"/>
<circle cx="657.50" cy="385.60" r="2.05" fill="#a6a8ab"/>
<circle cx="657.00" cy="389.60" r="2.05" fill="#a6a8ab"/>
<circle cx="662.40" cy="397.70" r="2.05" fill="#a6a8ab"/>
<circle cx="661.10" cy="400.70" r="2.05" fill="#a6a8ab"/>
<circle cx="648.90" cy="427.30" r="2.05" fill="#a6a8ab"/>
<circle cx="648.00" cy="429.00" r="2.05" fill="#a6a8ab"/>
<circle cx="646.50" cy="436.40" r="2.05" fill="#a6a8ab"/>
<circle cx="645.70" cy="459.50" r="2.05" fill="#a6a8ab"/>
<circle cx="645.60" cy="461.00" r="2.05" fill="#a6a8ab"/>
<circle cx="643.00" cy="467.40" r="2.05" fill="#a6a8ab"/>
<circle cx="523.00" cy="446.60" r="2.05" fill="#a6a8ab"/>
<circle cx="517.40" cy="448.60" r="2.05" fill="#a6a8ab"/>
<circle cx="510.00" cy="423.30" r="2.05" fill="#a6a8ab"/>
<circle cx="628.40" cy="492.60" r="2.05" fill="#a6a8ab"/>
<circle cx="536.60" cy="479.60" r="2.05" fill="#a6a8ab"/>
<circle cx="539.00" cy="483.40" r="2.05" fill="#a6a8ab"/>
<circle cx="544.40" cy="492.40" r="2.05" fill="#a6a8ab"/>
<circle cx="551.00" cy="502.40" r="2.05" fill="#a6a8ab"/>
<circle cx="550.00" cy="506.60" r="2.05" fill="#a6a8ab"/>
<circle cx="557.00" cy="513.00" r="2.05" fill="#a6a8ab"/>
<circle cx="558.00" cy="513.60" r="2.05" fill="#a6a8ab"/>
<circle cx="559.60" cy="511.60" r="2.05" fill="#a6a8ab"/>
<circle cx="564.40" cy="515.40" r="2.05" fill="#a6a8ab"/>
<circle cx="567.40" cy="519.60" r="2.05" fill="#a6a8ab"/>
<circle cx="569.00" cy="519.40" r="2.05" fill="#a6a8ab"/>
<circle cx="569.00" cy="519.40" r="2.05" fill="#a6a8ab"/>
<circle cx="573.00" cy="522.00" r="2.05" fill="#a6a8ab"/>
<circle cx="575.60" cy="523.00" r="2.05" fill="#a6a8ab"/>
<circle cx="578.40" cy="524.00" r="2.05" fill="#a6a8ab"/>
<circle cx="581.00" cy="525.00" r="2.05" fill="#a6a8ab"/>
<circle cx="585.00" cy="525.00" r="2.05" fill="#a6a8ab"/>
<circle cx="588.00" cy="524.00" r="2.05" fill="#a6a8ab"/>
<circle cx="591.00" cy="522.40" r="2.05" fill="#a6a8ab"/>
<circle cx="594.00" cy="521.00" r="2.05" fill="#a6a8ab"/>
<circle cx="597.00" cy="519.60" r="2.05" fill="#a6a8ab"/>
<circle cx="600.40" cy="517.60" r="2.05" fill="#a6a8ab"/>
<circle cx="602.40" cy="515.60" r="2.05" fill="#a6a8ab"/>
<circle cx="606.00" cy="513.00" r="2.05" fill="#a6a8ab"/>
<circle cx="608.00" cy="513.00" r="2.05" fill="#a6a8ab"/>
<circle cx="610.60" cy="509.00" r="2.05" fill="#a6a8ab"/>
<circle cx="612.80" cy="506.50" r="2.05" fill="#a6a8ab"/>
<circle cx="615.00" cy="504.00" r="2.05" fill="#a6a8ab"/>
<circle cx="617.60" cy="503.00" r="2.05" fill="#a6a8ab"/>
<circle cx="619.00" cy="500.60" r="2.05" fill="#a6a8ab"/>
<circle cx="620.60" cy="498.00" r="2.05" fill="#a6a8ab"/>
<circle cx="622.00" cy="495.60" r="2.05" fill="#a6a8ab"/>
<circle cx="623.50" cy="492.60" r="2.05" fill="#a6a8ab"/>
<circle cx="625.00" cy="489.60" r="2.05" fill="#a6a8ab"/>
<circle cx="627.00" cy="486.80" r="2.05" fill="#a6a8ab"/>
<circle cx="629.00" cy="484.00" r="2.05" fill="#a6a8ab"/>
<circle cx="631.00" cy="480.00" r="2.05" fill="#a6a8ab"/>
<circle cx="632.00" cy="477.00" r="2.05" fill="#a6a8ab"/>
<circle cx="506.60" cy="370.60" r="2.05" fill="#1b1b1b"/>
<circle cx="672.20" cy="315.80" r="2.05" fill="#1b1b1b"/>
<circle cx="661.60" cy="363.70" r="2.05" fill="#1b1b1b"/>
<circle cx="661.60" cy="365.30" r="2.05" fill="#1b1b1b"/>
<circle cx="659.50" cy="376.40" r="2.05" fill="#1b1b1b"/>
<circle cx="659.50" cy="378.00" r="2.05" fill="#1b1b1b"/>
<circle cx="665.70" cy="379.10" r="2.05" fill="#1b1b1b"/>
<circle cx="656.20" cy="393.70" r="2.05" fill="#1b1b1b"/>
<circle cx="656.20" cy="395.00" r="2.05" fill="#1b1b1b"/>
<circle cx="654.30" cy="401.00" r="2.05" fill="#1b1b1b"/>
<circle cx="654.30" cy="404.20" r="2.05" fill="#1b1b1b"/>
<circle cx="651.70" cy="414.00" r="2.05" fill="#1b1b1b"/>
<circle cx="650.20" cy="418.50" r="2.05" fill="#1b1b1b"/>
<circle cx="647.80" cy="431.90" r="2.05" fill="#1b1b1b"/>
<circle cx="647.00" cy="433.20" r="2.05" fill="#1b1b1b"/>
<circle cx="643.20" cy="448.10" r="2.05" fill="#1b1b1b"/>
<circle cx="641.30" cy="453.30" r="2.05" fill="#1b1b1b"/>
<circle cx="641.30" cy="455.00" r="2.05" fill="#1b1b1b"/>
<circle cx="647.00" cy="458.20" r="2.05" fill="#1b1b1b"/>
<circle cx="639.70" cy="459.80" r="2.05" fill="#1b1b1b"/>
<circle cx="637.50" cy="463.50" r="2.05" fill="#1b1b1b"/>
<circle cx="635.40" cy="470.00" r="2.05" fill="#1b1b1b"/>
<text x="511.60" y="373.20" font-size="8" text-anchor="start" fill="#231f20">3M2OP</text>
<text x="674.40" y="311.60" font-size="8" text-anchor="end" fill="#231f20">Argininosuccinate</text>
<text x="669.60" y="322.90" font-size="8" text-anchor="end" fill="#231f20">Cystine</text>
<text x="659.00" y="359.50" font-size="8" text-anchor="start" fill="#231f20">Inosine</text>
<text x="655.00" y="368.10" font-size="8" text-anchor="end" fill="#231f20"><tspan font-style="italic">myo</tspan>-Inositol</text>
<text x="654.10" y="375.40" font-size="8" text-anchor="end" fill="#231f20">Glutamate</text>
<text x="652.70" y="383.00" font-size="8" text-anchor="end" fill="#231f20">Choline</text>
<text x="646.50" y="390.30" font-size="8" text-anchor="end" fill="#231f20">Homocitrulline</text>
<line x1="648.00" y1="386.40" x2="664.60" y2="379.40" stroke="#333" stroke-width="0.6"/>
<text x="660.80" y="394.30" font-size="8" text-anchor="start" fill="#231f20">GPC</text>
<text x="641.30" y="397.90" font-size="8" text-anchor="end" fill="#231f20">Tyrosine</text>
<line x1="643.00" y1="394.00" x2="654.60" y2="393.00" stroke="#333" stroke-width="0.6"/>
<text x="648.90" y="405.20" font-size="8" text-anchor="end" fill="#231f20"><tspan font-style="italic">N</tspan><tspan font-size="5.2" dy="-2.6">6</tspan><tspan dy="2.6">-acetyllysine</tspan></text>
<text x="658.20" y="410.90" font-size="8" text-anchor="start" fill="#231f20">PEtn</text>
<text x="656.20" y="417.40" font-size="8" text-anchor="start" fill="#231f20">Serine</text>
<text x="645.70" y="421.10" font-size="8" text-anchor="end" fill="#231f20">Carnosine</text>
<text x="652.70" y="434.80" font-size="8" text-anchor="start" fill="#231f20">Glycine</text>
<text x="641.60" y="436.90" font-size="8" text-anchor="end" fill="#231f20">Thymidine</text>
<text x="638.40" y="446.60" font-size="8" text-anchor="end" fill="#231f20">Pipecolate</text>
</svg>
</body></html>
